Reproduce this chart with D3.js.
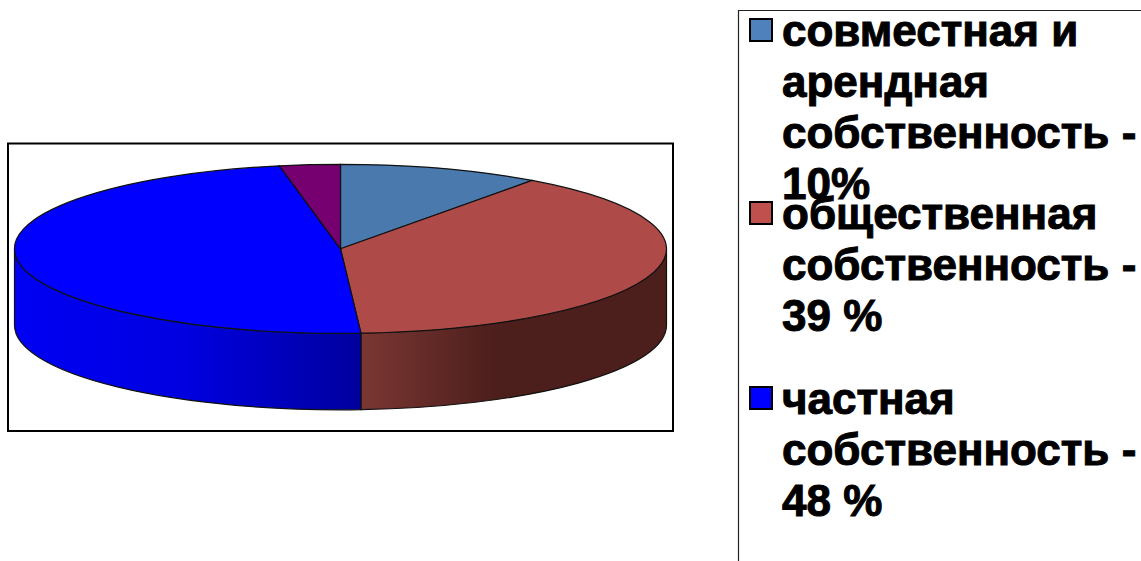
<!DOCTYPE html>
<html>
<head>
<meta charset="utf-8">
<script src="https://cdn.jsdelivr.net/npm/d3@7"></script>
<style>
    html, body { margin: 0; padding: 0; background: #fff; overflow: hidden; }
    svg { display: block; }
    text { font-family: "Liberation Sans", Arial, sans-serif; font-weight: bold; }
</style>
</head>
<body>
<div id="chart"></div>
<script>
// Chart data
const categories = ["совместная и арендная собственность", "общественная собственность", "частная собственность", "прочее"];
const values = [10, 39, 48, 3];
const sliceColors = ["#4a79ae", "#ae4b48", "#0000ff", "#76006f"];

// Legend
const legendLines = [
    ["совместная и", "арендная", "собственность -", "10%"],
    ["общественная", "собственность -", "39 %"],
    ["частная", "собственность -", "48 %"]
];
const legendColors = ["#4f81bd", "#c0504d", "#0000ff"];

const width = 1141;
const height = 561;

const svg = d3.select("#chart")
    .append("svg")
    .attr("width", width)
    .attr("height", height);

// Gradients for the side wall of the pie
const defs = svg.append("defs");

function addGradient(id, x1, x2, stops) {
    const g = defs.append("linearGradient")
        .attr("id", id)
        .attr("gradientUnits", "userSpaceOnUse")
        .attr("x1", x1).attr("x2", x2)
        .attr("y1", 0).attr("y2", 0);
    stops.forEach(function (s) {
        g.append("stop").attr("offset", s[0]).attr("stop-color", s[1]);
    });
}

// Pie geometry
const cx = 340.5, cy = 248.8;
const rx = 326, ry = 84.5;
const depth = 76.5;
const squash = ry / rx;

// x positions in the gradients are relative to the pie centre
addGradient("wallBlue", -rx, 20, [[0, "#0000f4"], [0.5, "#0000e0"], [1, "#00009e"]]);
addGradient("wallRed", 20, 155, [[0, "#7b3733"], [1, "#4c1e1c"]]);

// Plot frame
svg.append("rect")
    .attr("x", 8)
    .attr("y", 143.5)
    .attr("width", 665)
    .attr("height", 287.5)
    .attr("fill", "#fff")
    .attr("stroke", "#000")
    .attr("stroke-width", 2);

// The pie is drawn as a circle and flattened with a scale transform
const pie3d = svg.append("g")
    .attr("transform", `translate(${cx},${cy}) scale(1,${squash})`);

const slices = d3.pie().sort(null).value(d => d)(values);
const arc = d3.arc().innerRadius(0).outerRadius(rx);

// d3.path measures from the x axis, d3.pie from 12 o'clock
function wallPath(a0, a1) {
    const d = depth / squash;
    const p = d3.path();
    p.arc(0, 0, rx, a0 - Math.PI / 2, a1 - Math.PI / 2);
    p.lineTo(rx * Math.sin(a1), -rx * Math.cos(a1) + d);
    p.arc(0, d, rx, a1 - Math.PI / 2, a0 - Math.PI / 2, true);
    p.closePath();
    return p.toString();
}

// Only the front half of the wall is visible
const wallSlices = [
    { start: Math.PI / 2, end: slices[1].endAngle, fill: "url(#wallRed)" },
    { start: slices[2].startAngle, end: 3 * Math.PI / 2, fill: "url(#wallBlue)" }
];

pie3d.selectAll(".wall")
    .data(wallSlices)
    .enter()
    .append("path")
    .attr("class", "wall")
    .attr("d", d => wallPath(d.start, d.end))
    .attr("fill", d => d.fill)
    .attr("stroke", "#111")
    .attr("stroke-width", 1.2)
    .attr("vector-effect", "non-scaling-stroke");

pie3d.selectAll(".slice")
    .data(slices)
    .enter()
    .append("path")
    .attr("class", "slice")
    .attr("d", arc)
    .attr("fill", (d, i) => sliceColors[i])
    .attr("stroke", "#111")
    .attr("stroke-width", 1.2)
    .attr("vector-effect", "non-scaling-stroke");

// Legend frame runs off the right and bottom of the picture
svg.append("path")
    .attr("d", `M${width + 2},10.5H738.5V${height + 2}`)
    .attr("fill", "none")
    .attr("stroke", "#222")
    .attr("stroke-width", 1.2);

const legendTops = [46, 229, 414];
const lineHeight = 51;

const legend = svg.selectAll(".legend")
    .data(legendLines)
    .enter()
    .append("g")
    .attr("class", "legend")
    .attr("transform", (d, i) => `translate(0,${legendTops[i]})`);

legend.append("rect")
    .attr("x", 750)
    .attr("y", -27)
    .attr("width", 22)
    .attr("height", 22)
    .attr("fill", (d, i) => legendColors[i])
    .attr("stroke", "#000")
    .attr("stroke-width", 2);

legend.selectAll("text")
    .data(d => d)
    .enter()
    .append("text")
    .attr("x", 782)
    .attr("y", (d, i) => i * lineHeight)
    .attr("font-size", 44)
    .attr("fill", "#000")
    .attr("stroke", "#000")
    .attr("stroke-width", 1)
    .text(d => d);
</script>
</body>
</html>
